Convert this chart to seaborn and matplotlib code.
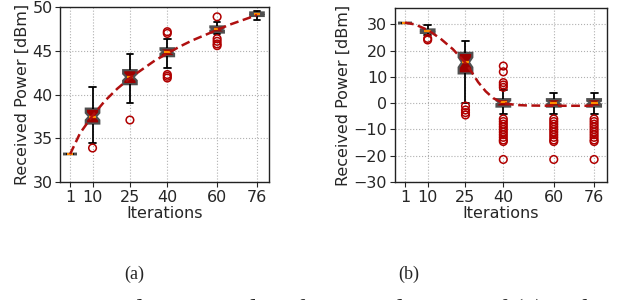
import pandas as pd
import numpy as np
import matplotlib
matplotlib.use('Agg')
import matplotlib.pyplot as plt
import seaborn as sns

sns.set_style('ticks')
plt.rcParams['font.family'] = ['DejaVu Sans']

# ── data ──────────────────────────────────────────────────────
ITERS = [1, 10, 25, 40, 60, 76]

# (a) box stats: whisker low, q1, median, q3, whisker high
A_WLO = [33.2, 34.5, 39.0, 43.0, 46.9, 48.5]
A_Q1  = [33.2, 36.7, 41.2, 44.4, 47.1, 49.0]
A_MED = [33.2, 37.5, 42.0, 44.9, 47.5, 49.2]
A_Q3  = [33.2, 38.4, 42.8, 45.3, 47.8, 49.4]
A_WHI = [33.2, 40.9, 44.6, 46.4, 48.3, 49.6]
A_FLIERS = {10: [33.9], 25: [37.1], 40: [47.2, 47.0, 42.3, 42.1, 41.9],
            60: [48.9, 46.4, 46.1, 45.8, 45.6], 76: []}
A_CURVE_X = [1, 5, 10, 15, 20, 25, 30, 35, 40, 45, 50, 55, 60, 65, 70, 76]
A_CURVE_Y = [33.2, 35.6, 37.6, 39.3, 40.7, 41.9, 42.9, 43.9, 44.7, 45.5,
             46.2, 46.8, 47.4, 48.0, 48.5, 49.1]

# (b)
B_WLO = [30.6, 25.8, 0.0, -4.0, -4.0, -4.0]
B_Q1  = [30.6, 26.7, 11.3, -1.3, -1.3, -1.3]
B_MED = [30.6, 27.3, 15.5, 0.3, 0.2, 0.2]
B_Q3  = [30.6, 28.0, 19.1, 1.5, 1.5, 1.5]
B_WHI = [30.6, 29.6, 23.7, 5.0, 4.0, 4.0]
B_LOW_TAIL = [-6.0, -7.0, -8.0, -9.0, -10.0, -11.0, -12.0, -13.0, -14.0, -14.6, -21.4]
B_FLIERS = {10: [24.6, 24.0], 25: [-1.1, -2.6, -3.6, -4.5],
            40: [14.1, 11.9, 7.8, 6.9, 6.0] + B_LOW_TAIL,
            60: B_LOW_TAIL, 76: B_LOW_TAIL}
B_CURVE_X = [1, 5, 10, 15, 20, 25, 28, 30, 33, 36, 40, 45, 50, 60, 76]
B_CURVE_Y = [30.6, 29.9, 27.8, 24.6, 20.5, 15.3, 11.0, 8.0, 4.5, 1.9,
             0.0, -0.7, -0.9, -1.0, -1.0]

BOX_RED   = '#9e0000'
LINE_RED  = '#b01010'
EDGE_GRAY = '#505050'
MED_ORNG  = '#ff8c00'


def samples(wlo, q1, med, q3, whi, k=10):
    # repeat the five read values so the quartiles land on them (n=41)
    rows = []
    for it, a, b, c, d, e in zip(ITERS, wlo, q1, med, q3, whi):
        vals = [a] + [b] * k + [c] * (2 * k - 1) + [d] * k + [e]
        rows += [{'it': it, 'p': v} for v in vals]
    return pd.DataFrame(rows)


def fliers_df(fl):
    return pd.DataFrame([{'it': it, 'p': v} for it, vs in fl.items() for v in vs])


def panel(ax, df, fl, cx, cy, ylim, yticks):
    sns.boxplot(data=df, x='it', y='p', native_scale=True, ax=ax,
                notch=True, whis=(0, 100), width=0.6, saturation=1,
                color=BOX_RED, linewidth=1.3,
                boxprops={'edgecolor': EDGE_GRAY, 'linewidth': 1.6},
                medianprops={'color': MED_ORNG, 'linewidth': 1.6},
                whiskerprops={'color': 'black', 'linewidth': 1.3},
                capprops={'color': 'black', 'linewidth': 1.3})
    fdf = fliers_df(fl)
    sns.scatterplot(data=fdf, x='it', y='p', ax=ax, marker='o', s=30,
                    facecolor='none', edgecolor='#b00000', linewidth=1.1,
                    zorder=4, legend=False)
    sns.lineplot(x=cx, y=cy, ax=ax, color=LINE_RED, linewidth=1.8,
                 dashes=(3.5, 1.8), zorder=5)
    ax.set_xlim(-3, 81)
    ax.set_ylim(*ylim)
    ax.set_xticks(ITERS)
    ax.set_xticklabels([str(i) for i in ITERS])
    ax.set_yticks(yticks)
    ax.grid(True, linestyle=':', color='#b0b0b0', linewidth=0.8)
    ax.set_axisbelow(True)
    ax.set_xlabel('Iterations', fontsize=11.5, labelpad=1)
    ax.set_ylabel('Received Power [dBm]', fontsize=11.5, labelpad=2)
    ax.tick_params(labelsize=11.5, length=3.5, width=0.8, pad=2)
    for s in ax.spines.values():
        s.set_color('#222222')
        s.set_linewidth(1.0)


fig = plt.figure(figsize=(6.4, 3.0), dpi=100)
ax_a = fig.add_axes([0.094, 0.393, 0.327, 0.583])
ax_b = fig.add_axes([0.617, 0.393, 0.331, 0.579])

panel(ax_a, samples(A_WLO, A_Q1, A_MED, A_Q3, A_WHI), A_FLIERS,
      A_CURVE_X, A_CURVE_Y, (30, 50), [30, 35, 40, 45, 50])
panel(ax_b, samples(B_WLO, B_Q1, B_MED, B_Q3, B_WHI), B_FLIERS,
      B_CURVE_X, B_CURVE_Y, (-30, 36), [-30, -20, -10, 0, 10, 20, 30])

serif = ['Liberation Serif', 'DejaVu Serif']
fig.text(0.209, 0.085, '(a)', ha='center', va='center', fontsize=13, family=serif)
fig.text(0.638, 0.085, '(b)', ha='center', va='center', fontsize=13, family=serif)
# figure caption below, cut by the bottom edge as in the reference
fig.text(0.003, -0.061, 'Fig. 4: Simulation results of received power of (a) Robot at',
         ha='left', va='baseline', fontsize=19.5, family=serif)

fig.savefig('out.png', dpi=100)
plt.close(fig)
